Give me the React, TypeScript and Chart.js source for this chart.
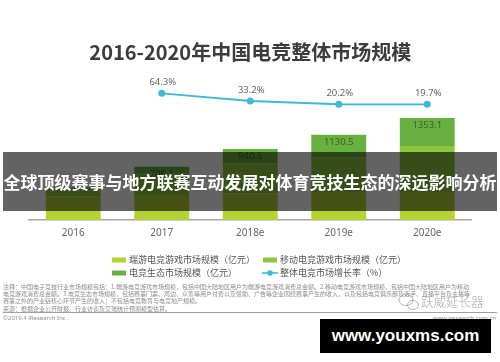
import React, { useEffect, useRef } from "react";
import { Chart, registerables } from "chart.js";

Chart.register(...registerables);

// ---- data ----
const categories = ["2016", "2017", "2018e", "2019e", "2020e"];
const pcGameValues = [310, 330, 350, 360, 370];
const mobileGameValues = [80, 283, 404, 470, 612];
const ecosystemValues = [39.8, 93.1, 186.5, 300.5, 371.1];
const totalLabels = ["", "706.1", "940.5", "1130.5", "1353.1"];
const growthRates: (number | null)[] = [null, 64.3, 33.2, 20.2, 19.7];
const growthLabels = ["", "64.3%", "33.2%", "20.2%", "19.7%"];
const seriesNames = [
  "端游电竞游戏市场规模（亿元）",
  "移动电竞游戏市场规模（亿元）",
  "电竞生态市场规模（亿元）",
  "整体电竞市场增长率（%）",
];
const titleText = "2016-2020年中国电竞整体市场规模";
const noteLines = [
  "注释：中国电子竞技行业市场规模包括：1.端游电竞游戏市场规模，包括中国大陆地区用户为端游电竞游戏消费总金额。2.移动电竞游戏市场规模，包括中国大陆地区用户为移动",
  "电竞游戏消费总金额。3.电竞生态市场规模，包括赛事门票、周边、众筹等用户付费以及赞助、广告等企业围绕赛事产生的收入，以及包括电竞俱乐部及选手、直播平台及主播等",
  "赛事之外的产业链核心环节产生的收入；不包括电竞教育与电竞地产规模。",
  "来源：根据企业公开财报、行业访谈及艾瑞统计预测模型估算。",
];
const copyrightText = "©2019.4 iResearch Inc .";
const sourceSite = "www.iresearch.com.cn";
const watermarkText = "跃威延长器";
const bannerText = "全球顶级赛事与地方联赛互动发展对体育竞技生态的深远影响分析";
const siteText = "www.youxms.com";

const colors = {
  pc: "#b3d234",
  mobile: "#8dc63f",
  eco: "#68b03f",
  line: "#3cbad6",
};

const CJK = "'Noto Sans CJK SC', 'Noto Sans', sans-serif";
const LATIN = "'Noto Sans', 'Open Sans', sans-serif";

const labelsPlugin = {
  id: "valueLabels",
  afterDatasetsDraw(chart: any) {
    const ctx = chart.ctx;
    ctx.save();
    const topMeta = chart.getDatasetMeta(2);
    ctx.font = `9.5px ${LATIN}`;
    ctx.fillStyle = "#3f5f2a";
    ctx.textAlign = "center";
    ctx.textBaseline = "middle";
    topMeta.data.forEach((el: any, i: number) => {
      if (totalLabels[i]) ctx.fillText(totalLabels[i], el.x, el.y + 7.5);
    });
    const lineMeta = chart.getDatasetMeta(3);
    ctx.fillStyle = "#666";
    lineMeta.data.forEach((el: any, i: number) => {
      if (growthRates[i] == null) return;
      ctx.fillText(growthLabels[i], el.x + 1, el.y - 11);
    });
    ctx.restore();
  },
};

const extrasPlugin = {
  id: "extras",
  afterDraw(chart: any) {
    const ctx = chart.ctx;
    ctx.save();
    // legend
    ctx.font = `9px ${CJK}`;
    ctx.textBaseline = "middle";
    ctx.textAlign = "left";
    const items = [
      { x: 112, y: 260, kind: "box", color: colors.pc, text: seriesNames[0] },
      { x: 263, y: 260, kind: "box", color: colors.mobile, text: seriesNames[1] },
      { x: 112, y: 273, kind: "box", color: colors.eco, text: seriesNames[2] },
      { x: 263, y: 273, kind: "line", color: colors.line, text: seriesNames[3] },
    ];
    items.forEach((it) => {
      if (it.kind === "box") {
        ctx.fillStyle = it.color;
        ctx.fillRect(it.x, it.y - 2.5, 14, 5);
      } else {
        ctx.strokeStyle = it.color;
        ctx.lineWidth = 1.6;
        ctx.beginPath();
        ctx.moveTo(it.x - 1, it.y);
        ctx.lineTo(it.x + 15, it.y);
        ctx.stroke();
        ctx.fillStyle = it.color;
        ctx.beginPath();
        ctx.arc(it.x + 7, it.y, 2.8, 0, Math.PI * 2);
        ctx.fill();
      }
      ctx.fillStyle = "#555";
      ctx.fillText(it.text, it.x + 17, it.y);
    });

    // notes
    ctx.font = `6px ${CJK}`;
    ctx.fillStyle = "#8c8c8c";
    const ys = [286.5, 293.5, 301, 308.5];
    noteLines.forEach((t, i) => {
      if (i < 2) ctx.fillText(t, 3, ys[i], 493);
      else ctx.fillText(t, 3, ys[i]);
    });
    ctx.strokeStyle = "#a0a0a0";
    ctx.lineWidth = 1;
    ctx.beginPath();
    ctx.moveTo(3, 312.5);
    ctx.lineTo(497, 312.5);
    ctx.stroke();
    ctx.font = `6px ${LATIN}`;
    ctx.fillText(copyrightText, 3, 318);
    ctx.textAlign = "right";
    ctx.fillText(sourceSite, 496, 318);

    // watermark
    ctx.strokeStyle = "rgba(150,150,150,0.7)";
    ctx.lineWidth = 1;
    ctx.beginPath();
    ctx.ellipse(406, 300, 7, 5.5, 0, 0, Math.PI * 2);
    ctx.stroke();
    ctx.beginPath();
    ctx.ellipse(413, 305, 5.5, 4.5, 0, 0, Math.PI * 2);
    ctx.stroke();
    ctx.textAlign = "left";
    ctx.font = `300 12.5px ${CJK}`;
    ctx.fillStyle = "rgba(140,140,140,0.75)";
    ctx.fillText(watermarkText, 421, 302.5);
    ctx.restore();
  },
};

export default function App() {
  const ref = useRef<HTMLCanvasElement | null>(null);

  useEffect(() => {
    if (!ref.current) return;
    const chart = new Chart(ref.current, {
      type: "bar",
      data: {
        labels: categories,
        datasets: [
          {
            label: seriesNames[0],
            data: pcGameValues,
            backgroundColor: colors.pc,
            barPercentage: 0.62,
            categoryPercentage: 1,
            order: 1,
          },
          {
            label: seriesNames[1],
            data: mobileGameValues,
            backgroundColor: colors.mobile,
            barPercentage: 0.62,
            categoryPercentage: 1,
            order: 1,
          },
          {
            label: seriesNames[2],
            data: ecosystemValues,
            backgroundColor: colors.eco,
            barPercentage: 0.62,
            categoryPercentage: 1,
            order: 1,
          },
          {
            type: "line",
            label: seriesNames[3],
            data: growthRates,
            yAxisID: "y2",
            borderColor: colors.line,
            backgroundColor: colors.line,
            borderWidth: 1.8,
            pointRadius: 3.5,
            pointBorderWidth: 0,
            tension: 0,
            order: 0,
          } as any,
        ],
      },
      options: {
        responsive: false,
        animation: false,
        layout: { padding: { left: 29, right: 28.5, top: 0, bottom: 122 } },
        plugins: {
          legend: { display: false },
          tooltip: { enabled: false },
          title: {
            display: true,
            text: titleText,
            color: "#3c3c3c",
            font: { size: 20, weight: "bold", family: CJK, lineHeight: 1.2 },
            padding: { top: 40, bottom: 6 },
          },
        },
        scales: {
          x: {
            stacked: true,
            grid: { display: false, drawTicks: false },
            border: { display: true, color: "#a6a6a6", width: 1.5 },
            ticks: { color: "#666", font: { size: 10, family: LATIN }, padding: 7 },
            afterFit: (s: any) => {
              s.height = 20;
            },
          },
          y: { stacked: true, display: false, min: 0, max: 1989 },
          y2: { display: false, min: -449.3, max: 159, position: "right" },
        },
      } as any,
      plugins: [labelsPlugin, extrasPlugin],
    });
    return () => chart.destroy();
  }, []);

  return (
    <div
      style={{
        position: "fixed",
        left: 0,
        top: 0,
        width: 500,
        height: 362,
        background: "#fff",
        overflow: "hidden",
      }}
    >
      <canvas ref={ref} width={500} height={362} style={{ display: "block", width: 500, height: 362 }} />
      <div
        style={{
          position: "absolute",
          left: 3,
          top: 152,
          width: 494,
          height: 59,
          background: "rgba(0,0,0,0.61)",
          color: "#fff",
          font: `bold 17px ${CJK}`,
          display: "flex",
          alignItems: "center",
          justifyContent: "center",
          whiteSpace: "nowrap",
          overflow: "hidden",
        }}
      >
        {bannerText}
      </div>
      <div
        style={{
          position: "absolute",
          left: 320,
          top: 319,
          width: 171,
          height: 34,
          background: "#000",
          color: "#fff",
          font: "bold 17px 'Liberation Sans', sans-serif",
          display: "flex",
          alignItems: "center",
          justifyContent: "center",
          whiteSpace: "nowrap",
        }}
      >
        {siteText}
      </div>
    </div>
  );
}
